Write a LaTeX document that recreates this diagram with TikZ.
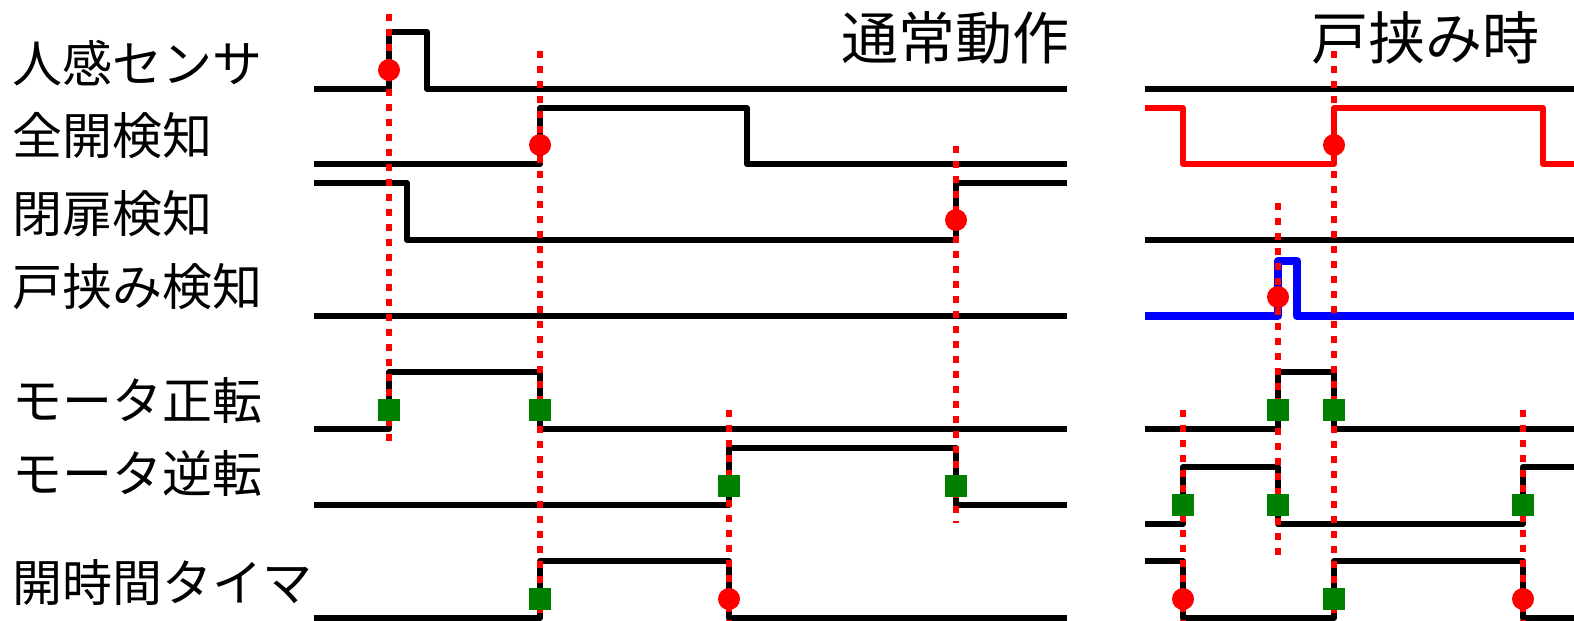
\documentclass[tikz,border=0pt]{standalone}
\usepackage{fontspec}
\setmainfont{Noto Sans CJK JP}
\definecolor{dgreen}{HTML}{008000}
\definecolor{pured}{HTML}{FF0000}
\definecolor{publ}{HTML}{0000FF}
\tikzset{
  sigline/.style={line width=6pt, line join=round},
  evline/.style={pured, line width=5.5pt, dash pattern=on 7pt off 8pt},
  dot/.style={circle, fill=pured, minimum size=22pt, inner sep=0pt},
  sqm/.style={rectangle, fill=dgreen, minimum size=22pt, inner sep=0pt},
  lbl/.style={anchor=west, inner sep=0pt, font=\fontsize{50}{50}\selectfont},
  ttl/.style={inner sep=0pt, font=\fontsize{57}{57}\selectfont}
}
\begin{document}
\begin{tikzpicture}[x=1pt,y=-1pt]
\useasboundingbox (0,0) rectangle (1574,621);
% labels
\node[lbl] (l1) at (12,63) {人感センサ};
\node[lbl] (l2) at (12,136) {全開検知};
\node[lbl] (l3) at (12,214) {閉扉検知};
\node[lbl] (l4) at (12,287) {戸挟み検知};
\node[lbl] (l5) at (12,400) {モータ正転};
\node[lbl] (l6) at (12,473) {モータ逆転};
\node[lbl] (l7) at (12,582) {開時間タイマ};
\node[ttl, anchor=east] (t1) at (1070,38) {通常動作};
\node[ttl, anchor=west] (t2) at (1311,38) {戸挟み時};
% left signals
\draw[sigline] (314,89) -- (389,89) -- (389,32) -- (427,32) -- (427,89) -- (1067,89);
\draw[sigline] (314,164) -- (540,164) -- (540,108) -- (747,108) -- (747,164) -- (1067,164);
\draw[sigline] (314,183) -- (407,183) -- (407,240) -- (956,240) -- (956,183) -- (1067,183);
\draw[sigline] (314,316) -- (1067,316);
\draw[sigline] (314,429) -- (389,429) -- (389,372) -- (540,372) -- (540,429) -- (1067,429);
\draw[sigline] (314,505) -- (729,505) -- (729,448) -- (956,448) -- (956,505) -- (1067,505);
\draw[sigline] (314,618) -- (540,618) -- (540,561) -- (729,561) -- (729,618) -- (1067,618);
% right signals
\draw[sigline] (1145,89) -- (1574,89);
\draw[sigline, pured] (1145,108) -- (1183,108) -- (1183,164) -- (1334,164) -- (1334,108) -- (1543,108) -- (1543,164) -- (1574,164);
\draw[sigline] (1145,240) -- (1574,240);
\draw[sigline, publ, line width=8pt] (1145,316) -- (1278,316) -- (1278,261) -- (1297,261) -- (1297,316) -- (1574,316);
\draw[sigline] (1145,429) -- (1278,429) -- (1278,372) -- (1334,372) -- (1334,429) -- (1574,429);
\draw[sigline] (1145,524) -- (1183,524) -- (1183,467) -- (1278,467) -- (1278,524) -- (1523,524) -- (1523,467) -- (1574,467);
\draw[sigline] (1145,561) -- (1183,561) -- (1183,618) -- (1334,618) -- (1334,561) -- (1523,561) -- (1523,618) -- (1574,618);
% event lines
\coordinate (a1) at (389,14);  \coordinate (a2) at (389,442);
\coordinate (b1) at (540,51);  \coordinate (b2) at (540,621);
\coordinate (c1) at (729,410); \coordinate (c2) at (729,621);
\coordinate (d1) at (956,146); \coordinate (d2) at (956,523);
\coordinate (e1) at (1278,203); \coordinate (e2) at (1278,555);
\coordinate (f1) at (1334,51);  \coordinate (f2) at (1334,621);
\coordinate (g1) at (1183,410); \coordinate (g2) at (1183,621);
\coordinate (h1) at (1523,410); \coordinate (h2) at (1523,621);
\foreach \p in {a,b,c,d,e,f,g,h} \draw[evline] (\p1) -- (\p2);
% markers left
\node[dot] (dl1) at (389,70) {};
\node[dot] (dl2) at (540,145) {};
\node[dot] (dl3) at (956,220) {};
\node[dot] (dl4) at (729,599) {};
\node[sqm] (sl1) at (389,410) {};
\node[sqm] (sl2) at (540,410) {};
\node[sqm] (sl3) at (729,486) {};
\node[sqm] (sl4) at (956,486) {};
\node[sqm] (sl5) at (540,599) {};
% markers right
\node[dot] (dr1) at (1334,145) {};
\node[dot] (dr2) at (1278,297) {};
\node[dot] (dr3) at (1183,599) {};
\node[dot] (dr4) at (1523,599) {};
\node[sqm] (sr1) at (1278,410) {};
\node[sqm] (sr2) at (1334,410) {};
\node[sqm] (sr3) at (1183,505) {};
\node[sqm] (sr4) at (1278,505) {};
\node[sqm] (sr5) at (1523,505) {};
\node[sqm] (sr6) at (1334,599) {};
\end{tikzpicture}
\end{document}
